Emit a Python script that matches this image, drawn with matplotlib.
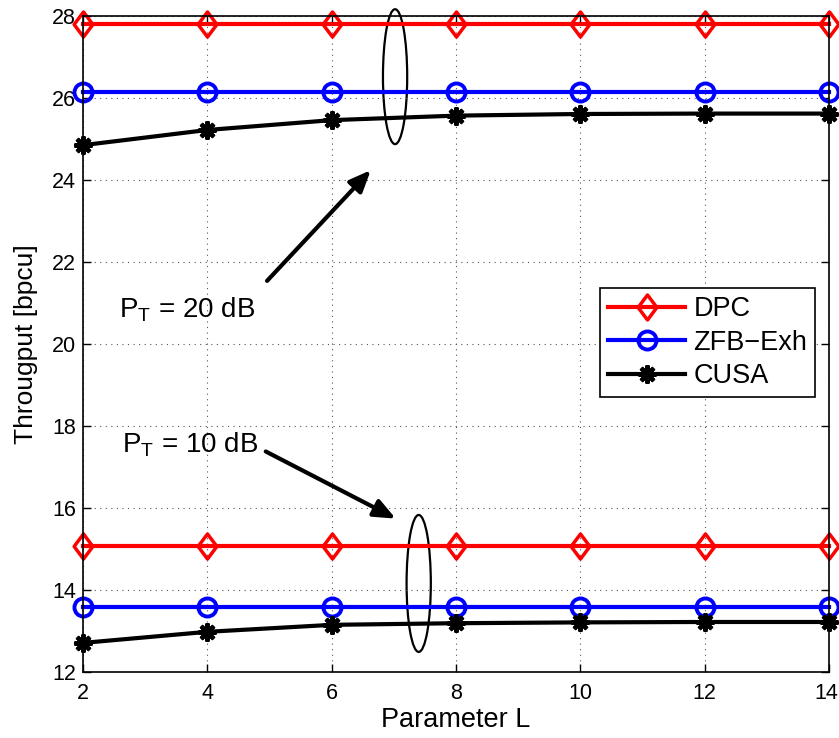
import matplotlib
matplotlib.use("Agg")
import matplotlib.pyplot as plt
import matplotlib.transforms as mtransforms
from matplotlib.patches import Ellipse
from matplotlib.path import Path

plt.rcParams['font.family'] = ['Liberation Sans', 'DejaVu Sans']

L = [2, 4, 6, 8, 10, 12, 14]
dpc_20 = [27.8, 27.8, 27.8, 27.8, 27.8, 27.8, 27.8]
zfb_20 = [26.15, 26.15, 26.15, 26.15, 26.15, 26.15, 26.15]
cusa_20 = [24.85, 25.22, 25.46, 25.57, 25.61, 25.62, 25.62]
dpc_10 = [15.07, 15.07, 15.07, 15.07, 15.07, 15.07, 15.07]
zfb_10 = [13.59, 13.59, 13.59, 13.59, 13.59, 13.59, 13.59]
cusa_10 = [12.71, 12.98, 13.15, 13.19, 13.21, 13.22, 13.22]

diamond = Path([(0, 1), (0.75, 0), (0, -1), (-0.75, 0), (0, 1)],
               [Path.MOVETO, Path.LINETO, Path.LINETO, Path.LINETO, Path.CLOSEPOLY])

fig = plt.figure(figsize=(8.39, 7.38), dpi=100)
ax = fig.add_axes([83/839, 1-672/738, 746/839, 656/738])

lw = 3.0
kw_d = dict(color='red', lw=lw, marker=diamond, ms=18, mfc='none', mew=2.5, clip_on=False)
kw_o = dict(color='blue', lw=lw, marker='o', ms=13, mfc='none', mew=2.8, clip_on=False)
kw_s = dict(color='black', lw=lw, marker=(8, 2, 0), ms=13, mew=3, clip_on=False)

ax.plot(L, dpc_20, label='DPC', **kw_d)
ax.plot(L, zfb_20, label='ZFB\u2212Exh', **kw_o)
ax.plot(L, cusa_20, label='CUSA', **kw_s)
ax.plot(L, dpc_10, **kw_d)
ax.plot(L, zfb_10, **kw_o)
ax.plot(L, cusa_10, **kw_s)

ax.set_xlim(2, 14)
ax.set_ylim(12, 28)
ax.set_xticks(L)
ax.set_yticks(range(12, 29, 2))
ax.grid(True, linestyle=(0, (1, 4)), color='#555555', lw=0.8)
ax.tick_params(direction='in', labelsize=15.5, length=6, width=1, top=True, right=True)
ax.tick_params(axis='x', pad=8)
ax.tick_params(axis='y', pad=5)
for s in ax.spines.values():
    s.set_linewidth(1.2)

# nudge the last x tick label so it stays inside the figure, as in the reference
last = ax.get_xticklabels()[-1]
last.set_transform(last.get_transform() + mtransforms.ScaledTranslation(-3/100, 0, fig.dpi_scale_trans))

ax.set_xlabel('Parameter L', fontsize=19.5, labelpad=2)
ax.set_ylabel('Througput [bpcu]', fontsize=19, labelpad=10)

leg = ax.legend(loc='upper left', bbox_to_anchor=(0.693, 0.5854), fontsize=19.5,
                fancybox=False, edgecolor='black', framealpha=1,
                handlelength=2.85, borderpad=0.3, labelspacing=0.28, handletextpad=0.3,
                borderaxespad=0)
leg.get_frame().set_linewidth(1.2)

ax.add_patch(Ellipse((7.02, 26.52), 0.39, 3.29, fill=False, ec='black', lw=1.6, clip_on=False))
ax.add_patch(Ellipse((7.40, 14.16), 0.39, 3.34, fill=False, ec='black', lw=1.6))

ax.annotate('', xy=(6.66, 24.29), xytext=(4.93, 21.49),
            arrowprops=dict(arrowstyle='-|>,head_length=1.3,head_width=0.55', lw=3, color='black'))
ax.annotate('', xy=(7.07, 15.71), xytext=(4.9, 17.41),
            arrowprops=dict(arrowstyle='-|>,head_length=1.3,head_width=0.55', lw=3, color='black'))

ax.text(2.58, 20.83, r'P$_\mathregular{T}$ = 20 dB', fontsize=20, va='center', ha='left')
ax.text(2.62, 17.54, r'P$_\mathregular{T}$ = 10 dB', fontsize=20, va='center', ha='left')

fig.savefig('out.png', dpi=100)
